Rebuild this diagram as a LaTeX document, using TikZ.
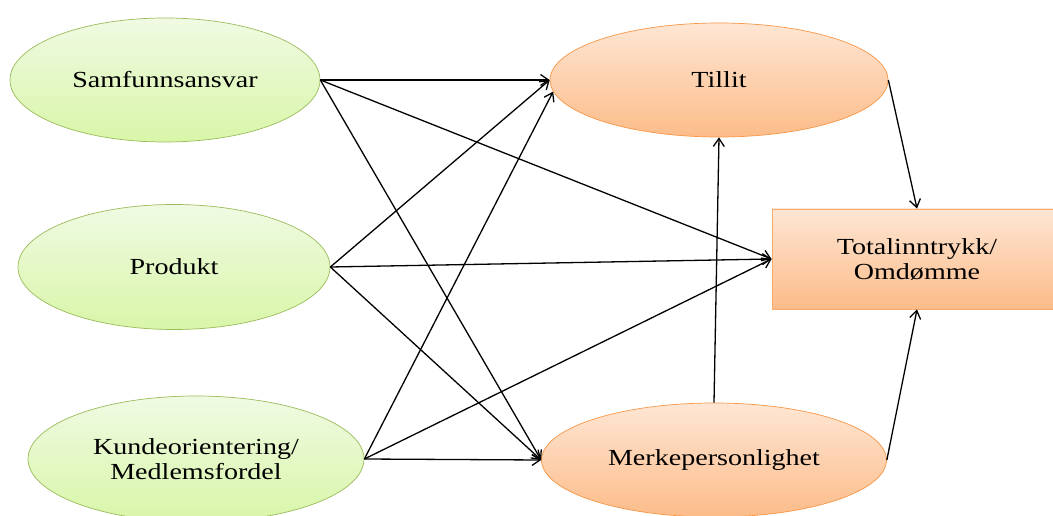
\documentclass[tikz,border=0pt]{standalone}
\usepackage{fontspec}
\setmainfont{Liberation Serif}
\usetikzlibrary{shapes.geometric,arrows.meta}
\definecolor{gtop}{HTML}{F0FAE3}
\definecolor{gbot}{HTML}{D8F6A8}
\definecolor{gline}{HTML}{9BBB59}
\definecolor{otop}{HTML}{FEE6D4}
\definecolor{obot}{HTML}{FCBC89}
\definecolor{oline}{HTML}{F79646}
% horizontally widened text
\newcommand{\wtext}[1]{\scalebox{1.22}[1]{#1}}
\tikzset{
  lbl/.style={font=\fontsize{23}{25}\selectfont, align=center, inner sep=0pt},
  driver/.style={lbl, ellipse, draw=gline, line width=0.7pt, top color=gtop, bottom color=gbot},
  outcome/.style={lbl, ellipse, draw=oline, line width=0.7pt, top color=otop, bottom color=obot},
  resultbox/.style={lbl, rectangle, draw=oline!80, line width=0.9pt, top color=otop, bottom color=obot},
  link/.style={line width=1.3pt, -{Straight Barb[length=8pt,width=11pt,line width=1.3pt]}}
}
\begin{document}
\begin{tikzpicture}[x=1pt,y=-1pt]
\useasboundingbox (0,0) rectangle (1053,516);
\clip (0,0) rectangle (1053,516);

% antecedents
\node[driver, minimum width=310pt, minimum height=124pt] (samf) at (165,80) {\wtext{Samfunnsansvar}};
\node[driver, minimum width=312pt, minimum height=125pt] (prod) at (174,267) {\wtext{Produkt}};
\node[driver, minimum width=336pt, minimum height=126pt] (kunde) at (196,459) {\wtext{Kundeorientering/}\\\wtext{Medlemsfordel}};

% mediators
\node[outcome, minimum width=338pt, minimum height=114pt] (tillit) at (719,80) {\wtext{Tillit}};
\node[outcome, minimum width=345pt, minimum height=114pt] (merke) at (714,460) {\wtext{Merkepersonlighet}};

% outcome
\node[resultbox, minimum width=290pt, minimum height=100pt] (total) at (917,259) {\wtext{Totalinntrykk/}\\\wtext{Omdømme}};

% paths
\draw[link] (samf.east) -- (tillit.west);
\draw[link] (samf.east) -- (merke.west);
\draw[link] (samf.east) -- (total.west);
\draw[link] (prod.east) -- (tillit.west);
\draw[link] (prod.east) -- (total.west);
\draw[link] (prod.east) -- (merke.west);
\draw[link] (kunde.east) -- (tillit.184);
\draw[link] (kunde.east) -- (total.west);
\draw[link] (kunde.east) -- (merke.west);
\draw[link] (merke.north) -- (tillit.south);
\draw[link] (tillit.east) -- (total.north);
\draw[link] (merke.east) -- (total.south);
\end{tikzpicture}
\end{document}
